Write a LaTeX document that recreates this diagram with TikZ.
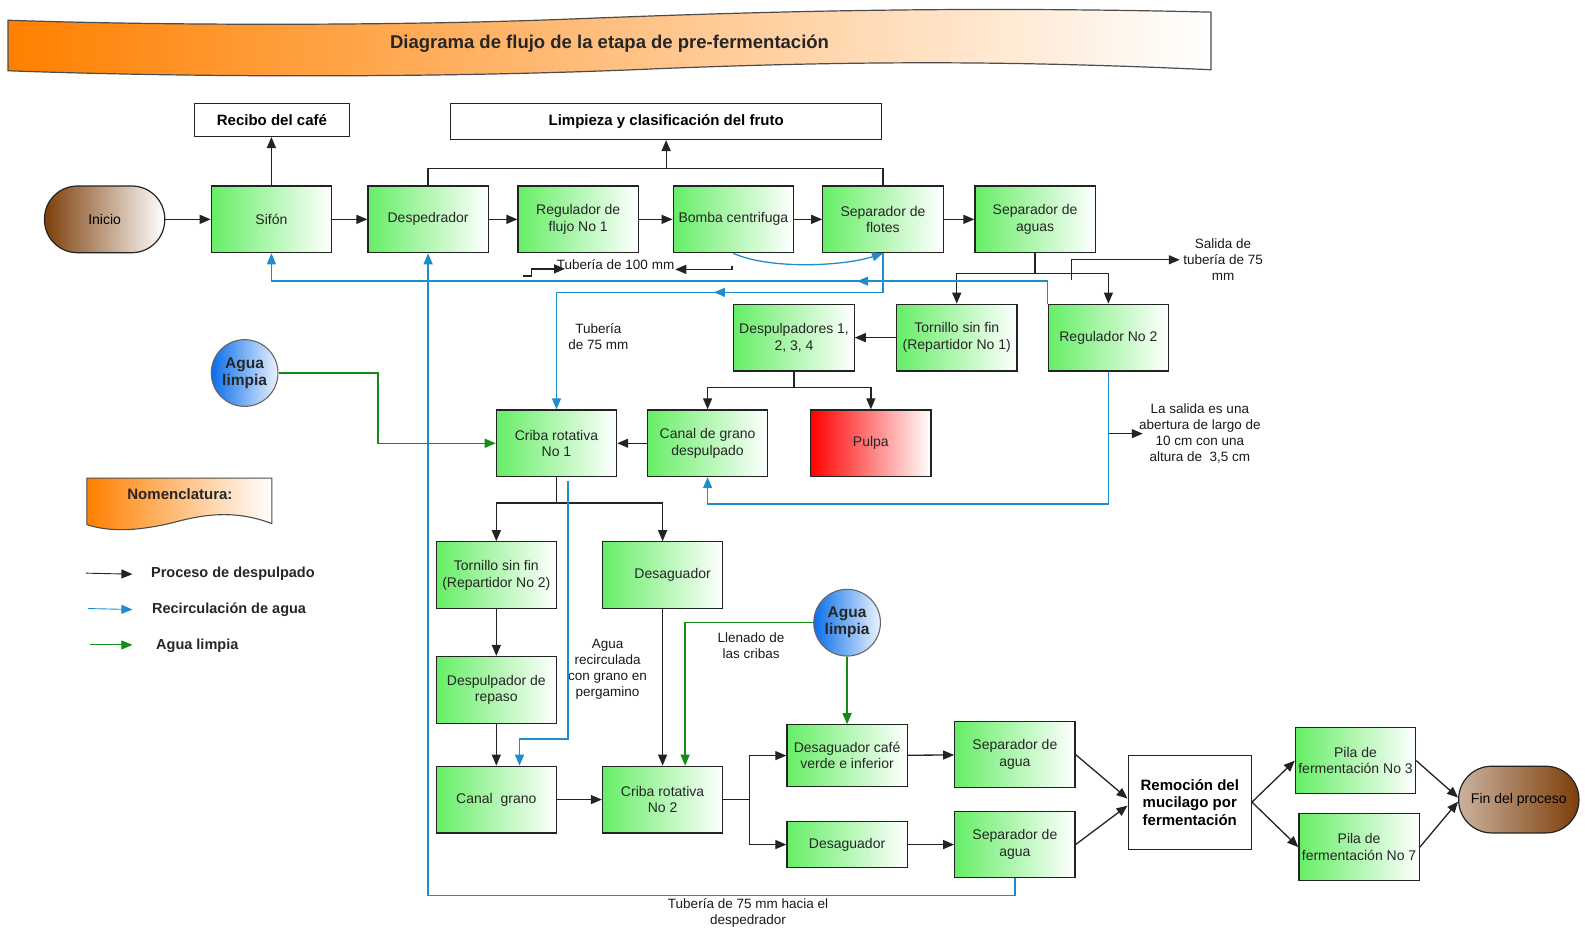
\documentclass[tikz,border=0pt]{standalone}
\usepackage{fontspec}
\setmainfont{Liberation Sans}
\usepackage{tikz}
\usetikzlibrary{arrows.meta, decorations.markings, shapes}

\definecolor{procgreen}{RGB}{102,238,102}
\definecolor{recblue}{RGB}{30,140,205}
\definecolor{cleangreen}{RGB}{20,140,20}
\definecolor{orangeband}{RGB}{255,128,0}
\definecolor{cafe}{RGB}{125,62,10}
\definecolor{aguablue}{RGB}{10,110,235}
\definecolor{edge}{RGB}{35,35,35}

\tikzset{
  proc/.style={draw=edge, line width=1.2pt, left color=procgreen, right color=white,
    minimum width=120.3pt, minimum height=66.7pt, inner sep=1pt, align=center,
    text=black!85, font=\fontsize{14}{16.5}\selectfont},
  stage/.style={draw=edge, line width=1.1pt, fill=white, inner sep=1pt, align=center,
    font=\bfseries\fontsize{15}{17.5}\selectfont},
  ends/.style={draw=edge, line width=1.2pt, rounded corners=33pt, minimum width=120.3pt,
    minimum height=66.7pt, font=\fontsize{14}{16.5}\selectfont},
  agua/.style={circle, draw=black!60, line width=1.1pt, left color=aguablue, right color=aguablue!8,
    minimum size=66.7pt, inner sep=0pt, align=center, text=black!85,
    font=\bfseries\fontsize{15.5}{17}\selectfont},
  lbl/.style={align=center, text=black!90, font=\fontsize{13.5}{16}\selectfont},
  legtxt/.style={anchor=west, text=black!85, font=\bfseries\fontsize{14.5}{17}\selectfont},
  tip/.style={-{Triangle[length=11pt,width=9pt]}},
  flow/.style={tip, line width=1.3pt, draw=edge},
  recirc/.style={tip, line width=1.3pt, draw=recblue},
  clean/.style={tip, line width=1.3pt, draw=cleangreen},
  midarrow/.style={postaction={decorate, decoration={markings,
    mark=at position #1 with {\arrow{Triangle[length=11pt,width=9pt]}}}}}
}

\begin{document}
\begin{tikzpicture}[x=1.0108pt, y=-1.0108pt]
  \useasboundingbox (0,0) rectangle (1568,919);

  % title band
  \shadedraw[left color=orangeband, right color=white, draw=black!70, line width=1.2pt]
    (8,20) .. controls (150,25) and (380,26) .. (560,19) .. controls (760,11) and (950,6) .. (1198,12)
    -- (1198,69) .. controls (1000,60) and (850,60) .. (650,68) .. controls (450,77) and (200,77) .. (8,70) -- cycle;
  \node[text=black!85, font=\bfseries\fontsize{18.5}{20}\selectfont] (title) at (603,43)
    {Diagrama de flujo de la etapa de pre-fermentación};

  % top stages
  \node[stage, minimum width=155.7pt, minimum height=33.4pt] (recibo) at (269,118.5) {Recibo del café};
  \node[stage, minimum width=430.6pt, minimum height=36.4pt] (limp) at (659,120) {Limpieza y clasificación del fruto};

  % first row
  \node[ends, left color=cafe, right color=white] (inicio) at (103.5,217) {Inicio};
  \node[proc] (sifon) at (268.5,217) {Sifón};
  \node[proc] (desp) at (423.5,217) {Despedrador};
  \node[proc] (reg1) at (572,217) {Regulador de\\flujo No 1};
  \node[proc] (bomba) at (725.5,217) {Bomba centrifuga};
  \node[proc] (sepflot) at (873.5,217) {Separador de\\flotes};
  \node[proc] (sepag) at (1024,217) {Separador de\\aguas};

  % second row
  \node[proc] (desp14) at (785.5,334) {Despulpadores 1,\\2, 3, 4};
  \node[proc] (torn1) at (946.5,334) {Tornillo sin fin\\(Repartidor No 1)};
  \node[proc] (reg2) at (1096.5,334) {Regulador No 2};

  \node[proc] (criba1) at (550.5,438.5) {Criba rotativa\\No 1};
  \node[proc] (canal) at (700,438.5) {Canal de grano\\despulpado};
  \node[proc, left color=red] (pulpa) at (861.5,438.5) {Pulpa};

  \node[agua] (agua1) at (242,369) {Agua\\limpia};

  % lower part
  \node[proc] (torn2) at (491,569) {Tornillo sin fin\\(Repartidor No 2)};
  \node[proc] (desag1) at (655.5,569) {\hspace*{20pt}Desaguador};
  \node[proc] (repaso) at (491,682.5) {Despulpador de\\repaso};
  \node[proc] (canalg) at (491,791) {Canal\ \ grano};
  \node[proc] (criba2) at (655.5,791) {Criba rotativa\\No 2};
  \node[agua] (agua2) at (838,616) {Agua\\limpia};

  \node[proc, minimum height=61.6pt] (desagcv) at (838,747.5) {Desaguador café\\verde e inferior};
  \node[proc, minimum height=45.5pt] (desaglow) at (838,835.5) {Desaguador};
  \node[proc, minimum height=65.7pt] (sepa1) at (1004,746.5) {Separador de\\agua};
  \node[proc, minimum height=65.7pt] (sepa2) at (1004,835.5) {Separador de\\agua};
  \node[stage, minimum width=123.3pt, minimum height=94pt] (remo) at (1177,793.5)
    {Remoción del\\mucilago por\\fermentación};
  \node[proc, minimum height=65.7pt] (pila3) at (1341,752.5) {Pila de\\fermentación No 3};
  \node[proc] (pila7) at (1344.5,838) {Pila de\\fermentación No 7};
  \node[ends, left color=cafe!40!white, right color=cafe] (fin) at (1502.5,791) {Fin del proceso};

  % labels
  \node[lbl] (t100) at (609,262) {Tubería de 100 mm};
  \node[lbl] (t75) at (592,333) {Tubería\\de 75 mm};
  \node[lbl] (sal75) at (1210,257) {Salida de\\tubería de 75\\mm};
  \node[lbl] (salida) at (1187,429) {La salida es una\\abertura de largo de\\10 cm con una\\altura de \ 3,5 cm};
  \node[lbl] (pergam) at (601,662) {Agua\\recirculada\\con grano en\\pergamino};
  \node[lbl] (llenado) at (743,639) {Llenado de\\las cribas};
  \node[lbl] (t75b) at (740,903) {Tubería de 75 mm hacia el\\despedrador};

  % process flow
  \draw[flow] (inicio) -- (sifon);
  \draw[flow] (sifon) -- (desp);
  \draw[flow] (desp) -- (reg1);
  \draw[flow] (reg1) -- (bomba);
  \draw[flow] (bomba) -- (sepflot);
  \draw[flow] (sepflot) -- (sepag);
  \draw[flow] (sifon.north) -- (sifon.north |- recibo.south);
  \coordinate (jtop) at (659,167);
  \draw[edge, line width=1.3pt] (desp.north) |- (jtop) -| (sepflot.north);
  \draw[flow] (jtop) -- (limp.south);

  \coordinate (p100a) at (517,273);
  \coordinate (p100b) at (724,263);
  \draw[flow] (p100a) -- ++(9,0) -- ++(0,-7) -- ++(33,0);
  \draw[flow] (p100b) -- ++(0,3.5) -- ++(-56,0);

  \draw[edge, line width=1.3pt] (sepag.south) -- ++(0,20) coordinate (jsa);
  \draw[flow] (jsa) -| (torn1.north);
  \draw[flow] (jsa) -| (reg2.north);
  \coordinate (s75) at (1060,277);
  \draw[flow] (s75) |- (sal75.west);

  \draw[flow] (torn1) -- (desp14);
  \draw[edge, line width=1.3pt] (desp14.south) -- ++(0,16) coordinate (jd);
  \draw[flow] (jd) -| (canal.north);
  \draw[flow] (jd) -| (pulpa.north);
  \draw[flow] (canal) -- (criba1);
  \draw[flow] (reg2.south |- salida.west) -- ++(34,0);

  \draw[edge, line width=1.3pt] (criba1.south) -- ++(0,25.5) coordinate (jc1);
  \draw[flow] (jc1) -| (torn2.north);
  \draw[flow] (jc1) -| (desag1.north);
  \draw[flow] (torn2) -- (repaso);
  \draw[flow] (repaso) -- (canalg);
  \draw[flow] (canalg) -- (criba2);
  \draw[flow] (desag1) -- (criba2);
  \draw[edge, line width=1.3pt] (criba2.east) -- ++(26,0) coordinate (jc2);
  \draw[flow] (jc2) |- (desagcv.west);
  \draw[flow] (jc2) |- (desaglow.west);
  \draw[flow] (desagcv) -- (sepa1);
  \draw[flow] (desaglow) -- (sepa2);
  \draw[flow] (sepa1.east) -- ([yshift=3.5pt]remo.west);
  \draw[flow] (sepa2.east) -- ([yshift=-3.5pt]remo.west);
  \draw[flow] (remo.east) -- (pila3.west);
  \draw[flow] (remo.east) -- (pila7.west);
  \draw[flow] (pila3.east) -- ([yshift=2pt]fin.west);
  \draw[flow] (pila7.east) -- ([yshift=-2pt]fin.west);

  % water recirculation
  \draw[recirc] (bomba.south) .. controls +(35,16) and +(-40,13) .. (sepflot.south);
  \draw[recirc, midarrow=213pt] (reg2.north west) -- ++(0,-22.3) -| (sifon.south);
  \draw[recirc, midarrow=208pt] (sepflot.south) -- ++(0,38.6) -| (criba1.north);
  \draw[recirc] (reg2.south) -- ++(0,131) -| (canal.south);
  \coordinate (c1out) at (562,476);
  \draw[recirc] (c1out) -- ++(0,255) -| ([xshift=23.2pt]canalg.north);
  \draw[recirc] (sepa2.south) -- ++(0,17) -| (desp.south);

  % clean water
  \coordinate (gj1) at (374,400);
  \draw[clean] (agua1.east) -| (gj1) |- (criba1.west);
  \draw[clean] (agua2.west) -| ([xshift=22.5pt]criba2.north);
  \draw[clean] (agua2.south) -- (desagcv.north);

  % legend
  \shadedraw[left color=orangeband, right color=white, draw=black!70, line width=1.1pt]
    (86,473) -- (269,473) -- (269,518) .. controls (235,505) and (205,508) .. (175,516)
    .. controls (140,525) and (110,527) .. (86,519) -- cycle;
  \node[text=black!85, font=\bfseries\fontsize{15}{17}\selectfont] (nom) at (178,489) {Nomenclatura:};
  \coordinate (leg1) at (85,567);
  \coordinate (leg2) at (87,602);
  \coordinate (leg3) at (89,638);
  \node[legtxt] (legp) at (146,568) {Proceso de despulpado};
  \node[legtxt] (legr) at (147,603) {Recirculación de agua};
  \node[legtxt] (legc) at (151,639) {Agua limpia};
  \draw[flow, line width=0.9pt] (leg1) -- ++(46,1);
  \draw[recirc, line width=0.9pt] (leg2) -- ++(44,1);
  \draw[clean, line width=0.9pt] (leg3) -- ++(42,0);
\end{tikzpicture}
\end{document}
